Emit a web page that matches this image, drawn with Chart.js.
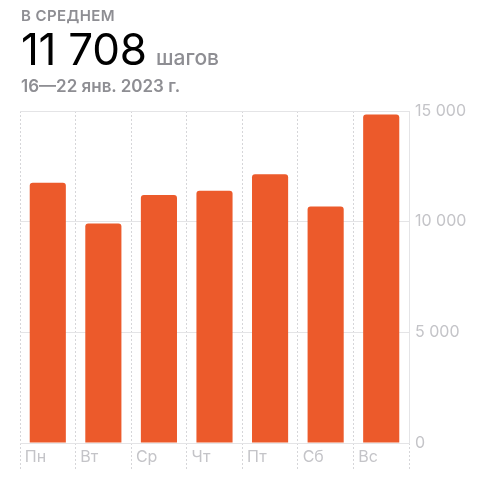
<!DOCTYPE html>
<html lang="ru">
<head>
<meta charset="utf-8">
<title>Шаги</title>
<script src="https://cdn.jsdelivr.net/npm/chart.js@4/dist/chart.umd.min.js"></script>
<style>
  html,body{margin:0;padding:0;background:#fff;}
  body{width:480px;height:490px;position:relative;overflow:hidden;font-family:Inter,"Noto Sans",sans-serif;}
  #head{position:absolute;left:21px;top:0;z-index:2;}
  .cap{position:absolute;left:0;top:6px;font-size:15px;font-weight:600;color:#8e8e93;white-space:nowrap;letter-spacing:0.4px;}
  .big{position:absolute;left:0;top:22px;white-space:nowrap;}
  .num{font-size:44px;font-weight:400;color:#000;letter-spacing:-0.3px;}
  .unit{font-size:21px;font-weight:500;color:#8e8e93;margin-left:5px;}
  .range{position:absolute;left:0;top:76px;font-size:17px;font-weight:600;color:#8e8e93;white-space:nowrap;}
  #wrap{position:absolute;left:0;top:0;width:480px;height:490px;}
</style>
</head>
<body>
<div id="head">
  <div class="cap">В СРЕДНЕМ</div>
  <div class="big"><span class="num">11 708</span> <span class="unit">шагов</span></div>
  <div class="range">16—22 янв. 2023 г.</div>
</div>
<div id="wrap"><canvas id="steps"></canvas></div>
<script>
// шаги по дням недели
const days = ["Пн","Вт","Ср","Чт","Пт","Сб","Вс"];
const steps = [11760, 9920, 11210, 11400, 12140, 10690, 14840];
const yMax = 15000;
const yStep = 5000;

const BAR = "#ec5a2b";
const GRID = "#e4e4e6";
const DASH = "#d6d6d9";
const LABEL = "#c4c4c8";

function fmt(v){ return String(v).replace(/\B(?=(\d{3})+(?!\d))/g, " "); }

new Chart(document.getElementById("steps"), {
  type: "bar",
  data: {
    labels: days,
    datasets: [{
      data: steps,
      backgroundColor: BAR,
      borderRadius: 3,
      borderSkipped: "start",
      barPercentage: 0.65,
      categoryPercentage: 1
    }]
  },
  options: {
    responsive: true,
    maintainAspectRatio: false,
    animation: false,
    layout: { padding: { top: 111, left: 20, right: 0, bottom: 0 } },
    plugins: { legend: { display: false }, tooltip: { enabled: false } },
    scales: {
      x: {
        offset: true,
        grid: {
          offset: true,
          color: DASH,
          lineWidth: 1,
          drawTicks: true,
          tickLength: 27,
          tickColor: DASH,
          tickBorderDash: function(c){ return c.index === days.length ? [] : [2,2]; }
        },
        border: { display: false, dash: [2,2] },
        ticks: {
          color: LABEL,
          font: { family: "Inter", size: 16 },
          align: "start",
          labelOffset: -23,
          padding: -22,
          maxRotation: 0
        },
        afterFit: function(s){ s.height = 47; }
      },
      y: {
        position: "right",
        min: 0,
        max: yMax,
        grid: { color: GRID, drawTicks: false },
        border: { display: true, color: GRID },
        ticks: {
          stepSize: yStep,
          color: LABEL,
          padding: 6,
          font: { family: "Inter", size: 16 },
          callback: function(v){ return fmt(v); }
        },
        afterFit: function(s){ s.width = 71; }
      }
    }
  }
});
</script>
</body>
</html>
